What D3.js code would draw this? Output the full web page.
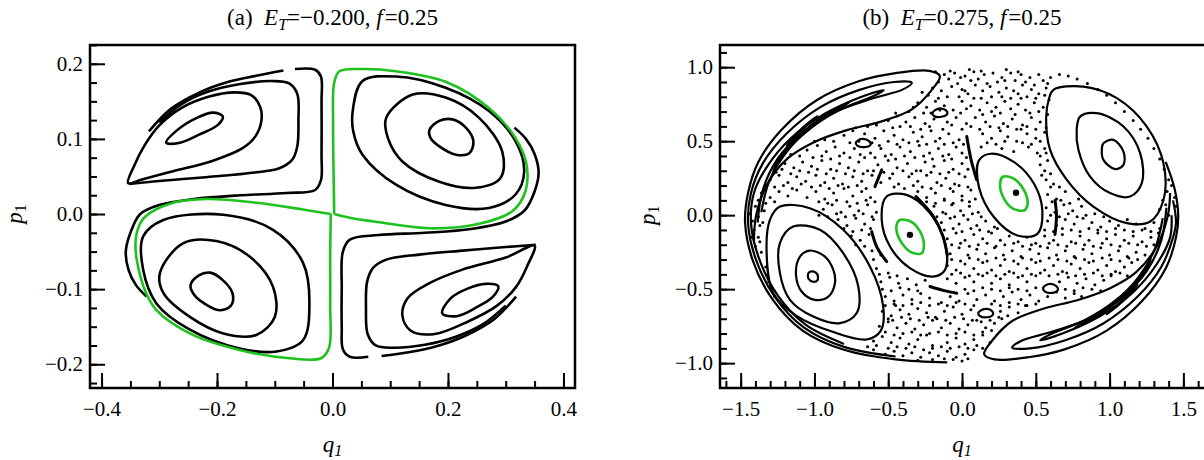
<!DOCTYPE html>
<html lang="en">
<head>
<meta charset="UTF-8">
<title>Poincare sections</title>
<script src="https://d3js.org/d3.v7.min.js"></script>
<style>
  body { margin: 0; background: #fff; }
  svg { display: block; font-family: "Liberation Serif", "Times New Roman", serif; }
  .tick text { font-size: 21px; fill: #000; font-family: "Liberation Serif", serif; }
  .tick line { stroke: #000; stroke-width: 2; }
</style>
</head>
<body>
<svg id="chart" width="1204" height="460"></svg>
<script>
// ---------- panel (a): E_T = -0.200 ----------
const aXTicks = [-0.4, -0.2, 0.0, 0.2, 0.4];
const aYTicks = [-0.2, -0.1, 0.0, 0.1, 0.2];

// upper-left island
const aUL1 = [[-0.288,0.095],[-0.270,0.111],[-0.235,0.128],[-0.207,0.135],[-0.190,0.130],[-0.198,0.119],[-0.230,0.106],[-0.264,0.095]];
const aUL2 = [[-0.354,0.041],[-0.343,0.065],[-0.325,0.092],[-0.300,0.118],[-0.262,0.141],[-0.215,0.156],[-0.170,0.162],[-0.140,0.158],[-0.125,0.142],[-0.123,0.125],[-0.133,0.104],[-0.155,0.088],[-0.207,0.071],[-0.276,0.057],[-0.330,0.046]];
const aUL3 = [[-0.300,0.122],[-0.262,0.146],[-0.215,0.163],[-0.160,0.173],[-0.105,0.177],[-0.075,0.174],[-0.061,0.160],[-0.059,0.125],[-0.061,0.090],[-0.070,0.072],[-0.092,0.061],[-0.150,0.054],[-0.220,0.049],[-0.300,0.044],[-0.352,0.040]];
const aUL4a = [[-0.318,0.110],[-0.280,0.140],[-0.230,0.162],[-0.180,0.176],[-0.132,0.184],[-0.085,0.191]];
const aUL4b = [[-0.065,0.193],[-0.030,0.192],[-0.020,0.183],[-0.019,0.150],[-0.019,0.080],[-0.020,0.045],[-0.030,0.032],[-0.080,0.028],[-0.160,0.025],[-0.240,0.020],[-0.300,0.012],[-0.333,0.000],[-0.350,-0.025],[-0.358,-0.050],[-0.353,-0.075],[-0.340,-0.095],[-0.322,-0.110]];
// upper-right island
const aUR1 = [[0.168,0.112],[0.185,0.124],[0.208,0.126],[0.231,0.115],[0.244,0.097],[0.237,0.081],[0.214,0.079],[0.185,0.090],[0.170,0.101]];
const aUR2 = [[0.093,0.128],[0.139,0.159],[0.196,0.155],[0.254,0.128],[0.294,0.083],[0.291,0.048],[0.248,0.035],[0.185,0.043],[0.121,0.070],[0.096,0.101]];
const aUR3 = [[0.035,0.137],[0.052,0.177],[0.110,0.183],[0.196,0.168],[0.271,0.137],[0.317,0.097],[0.332,0.057],[0.317,0.026],[0.271,0.008],[0.196,0.012],[0.110,0.039],[0.052,0.079],[0.036,0.110]];
// lower-left island
const aLL1 = [[-0.246,-0.095],[-0.232,-0.082],[-0.212,-0.078],[-0.190,-0.088],[-0.173,-0.106],[-0.176,-0.122],[-0.196,-0.128],[-0.222,-0.119],[-0.240,-0.107]];
const aLL2 = [[-0.299,-0.079],[-0.259,-0.039],[-0.201,-0.036],[-0.143,-0.057],[-0.103,-0.097],[-0.100,-0.137],[-0.132,-0.161],[-0.189,-0.159],[-0.247,-0.137],[-0.293,-0.105]];
const aLL3 = [[-0.328,-0.030],[-0.293,-0.008],[-0.189,-0.001],[-0.103,-0.021],[-0.051,-0.065],[-0.040,-0.119],[-0.051,-0.168],[-0.097,-0.183],[-0.161,-0.179],[-0.247,-0.154],[-0.305,-0.119],[-0.328,-0.074]];
// lower-right island
const aLR1 = [[0.190,-0.132],[0.205,-0.112],[0.235,-0.099],[0.265,-0.093],[0.287,-0.096],[0.278,-0.110],[0.250,-0.124],[0.215,-0.136]];
const aLR2 = [[0.350,-0.042],[0.300,-0.058],[0.225,-0.074],[0.168,-0.092],[0.130,-0.112],[0.121,-0.135],[0.135,-0.155],[0.175,-0.160],[0.235,-0.143],[0.285,-0.122],[0.318,-0.097],[0.338,-0.068]];
const aLR3 = [[0.300,-0.122],[0.262,-0.146],[0.215,-0.163],[0.160,-0.174],[0.105,-0.178],[0.075,-0.175],[0.061,-0.160],[0.058,-0.125],[0.060,-0.090],[0.070,-0.072],[0.092,-0.061],[0.150,-0.054],[0.220,-0.049],[0.300,-0.044],[0.352,-0.041]];
const aLR4a = [[0.318,-0.110],[0.280,-0.140],[0.230,-0.162],[0.180,-0.176],[0.132,-0.184],[0.085,-0.189]];
const aLR4b = [[0.062,-0.190],[0.030,-0.190],[0.018,-0.180],[0.016,-0.150],[0.016,-0.100],[0.018,-0.050],[0.030,-0.034],[0.080,-0.028],[0.160,-0.025],[0.240,-0.020],[0.300,-0.010],[0.333,0.005],[0.350,0.030],[0.357,0.055],[0.350,0.080],[0.335,0.100],[0.315,0.115]];
// separatrix (green)
const aGreenR = [[0.003,0.000],[0.002,0.050],[0.001,0.120],[0.003,0.175],[0.012,0.190],[0.050,0.193],[0.110,0.190],[0.196,0.176],[0.271,0.141],[0.317,0.101],[0.336,0.066],[0.334,0.030],[0.312,0.004],[0.254,-0.013],[0.168,-0.019],[0.081,-0.011],[0.030,-0.005],[0.003,0.000]];
const aGreenL = [[-0.003,0.000],[-0.004,-0.050],[-0.004,-0.120],[-0.006,-0.178],[-0.020,-0.192],[-0.074,-0.192],[-0.161,-0.181],[-0.247,-0.159],[-0.310,-0.123],[-0.339,-0.061],[-0.339,-0.025],[-0.325,-0.004],[-0.276,0.015],[-0.218,0.020],[-0.132,0.015],[-0.051,0.006],[-0.003,0.000]];

// ---------- panel (b): E_T = 0.275 ----------
const bXTicks = [-1.5, -1.0, -0.5, 0.0, 0.5, 1.0, 1.5];
const bYTicks = [-1.0, -0.5, 0.0, 0.5, 1.0];

const bLL1 = [[-1.04,-0.39],[-1.01,-0.38],[-0.98,-0.40],[-0.98,-0.44],[-1.01,-0.45],[-1.04,-0.43]];
const bLL2 = [[-1.098,-0.280],[-1.031,-0.239],[-0.929,-0.280],[-0.872,-0.370],[-0.861,-0.459],[-0.906,-0.550],[-0.997,-0.572],[-1.087,-0.516],[-1.125,-0.403]];
const bLL3 = [[-1.144,-0.077],[-0.963,-0.099],[-0.805,-0.257],[-0.703,-0.482],[-0.714,-0.662],[-0.827,-0.730],[-1.008,-0.685],[-1.166,-0.572],[-1.234,-0.392],[-1.234,-0.189]];
const bLL4 = [[-1.234,0.058],[-1.031,0.047],[-0.805,-0.099],[-0.624,-0.347],[-0.534,-0.618],[-0.550,-0.780],[-0.646,-0.840],[-0.872,-0.790],[-1.121,-0.680],[-1.279,-0.527],[-1.324,-0.257],[-1.302,-0.032]];
const bUR1 = [[0.958,0.486],[1.026,0.509],[1.094,0.430],[1.094,0.340],[1.037,0.311],[0.958,0.374],[0.947,0.441]];
const bUR2 = [[0.800,0.666],[0.913,0.689],[1.094,0.599],[1.207,0.419],[1.218,0.216],[1.139,0.126],[1.003,0.149],[0.868,0.261],[0.789,0.441],[0.777,0.576]];
const bUR3 = [[0.619,0.847],[0.822,0.869],[1.049,0.791],[1.252,0.599],[1.365,0.351],[1.365,0.103],[1.275,-0.043],[1.117,-0.054],[0.890,0.058],[0.710,0.239],[0.597,0.441],[0.570,0.660],[0.590,0.790]];
const bCLBlack = [[-0.511,0.126],[-0.375,0.137],[-0.217,0.014],[-0.115,-0.189],[-0.115,-0.370],[-0.195,-0.415],[-0.353,-0.358],[-0.488,-0.212],[-0.544,-0.032]];
const bCRBlack = [[0.511,-0.126],[0.375,-0.137],[0.217,-0.014],[0.115,0.189],[0.115,0.370],[0.195,0.415],[0.353,0.358],[0.488,0.212],[0.544,0.032]];
const bCLGreen = [[-0.420,-0.032],[-0.330,-0.054],[-0.262,-0.167],[-0.273,-0.257],[-0.353,-0.246],[-0.432,-0.145],[-0.443,-0.066]];
const bCRGreen = [[0.420,0.032],[0.330,0.054],[0.262,0.167],[0.273,0.257],[0.353,0.246],[0.432,0.145],[0.443,0.066]];
const bCentres = [[-0.353,-0.133],[0.366,0.151]];
const bSmall1 = [[-0.72,0.49],[-0.68,0.515],[-0.63,0.50],[-0.62,0.475],[-0.66,0.46],[-0.71,0.47]];
const bSmall2 = [[-0.20,0.69],[-0.16,0.72],[-0.11,0.71],[-0.10,0.685],[-0.14,0.665],[-0.19,0.67]];
const bSmall3 = [[0.11,-0.66],[0.15,-0.635],[0.20,-0.645],[0.21,-0.67],[0.17,-0.69],[0.12,-0.68]];
const bSmall4 = [[0.55,-0.49],[0.59,-0.465],[0.64,-0.48],[0.65,-0.505],[0.61,-0.525],[0.56,-0.515]];
const bCres1 = [[-0.612,-0.111],[-0.575,-0.220],[-0.511,-0.313]];
const bCres2 = [[-0.590,0.193],[-0.567,0.250],[-0.544,0.306]];
const bCres3 = [[-0.217,-0.482],[-0.120,-0.510],[-0.036,-0.527]];
const bCres4 = [[-0.312,0.126],[-0.200,0.000],[-0.130,-0.140],[-0.100,-0.268]];
const bCres5 = [[0.032,0.531],[0.060,0.380],[0.099,0.239]];
const bCres6 = [[0.630,0.100],[0.640,0.000],[0.630,-0.130]];
// layered bands, upper-left and lower-right
const bL1 = [[-0.10,-0.995],[-0.45,-0.975],[-0.80,-0.91],[-1.08,-0.78],[-1.29,-0.56],[-1.42,-0.30],[-1.47,-0.05],[-1.45,0.15],[-1.38,0.36],[-1.22,0.58],[-0.98,0.78],[-0.70,0.905],[-0.45,0.96],[-0.22,0.975],[-0.15,0.94],[-0.21,0.84],[-0.34,0.715],[-0.55,0.632],[-0.78,0.575],[-1.00,0.495],[-1.18,0.385],[-1.32,0.21],[-1.395,0.00],[-1.41,-0.18]];
const bL2 = [[-0.45,-0.955],[-0.80,-0.89],[-1.07,-0.76],[-1.27,-0.55],[-1.40,-0.29],[-1.45,-0.05],[-1.43,0.15],[-1.35,0.35],[-1.19,0.55],[-0.96,0.73],[-0.70,0.845],[-0.46,0.90],[-0.34,0.895],[-0.40,0.85],[-0.62,0.785],[-0.88,0.69],[-1.08,0.56],[-1.25,0.38],[-1.35,0.17],[-1.385,-0.05]];
const bL3 = [[-0.80,-0.87],[-1.06,-0.74],[-1.25,-0.54],[-1.38,-0.28],[-1.43,-0.05],[-1.41,0.15],[-1.32,0.33],[-1.16,0.52],[-0.93,0.685],[-0.68,0.80],[-0.53,0.845],[-0.60,0.805],[-0.83,0.71],[-1.03,0.585],[-1.20,0.415],[-1.31,0.22],[-1.36,0.02]];
const bL4 = [[-1.28,0.30],[-1.14,0.49],[-0.95,0.645],[-0.76,0.765],[-0.84,0.725],[-1.02,0.61],[-1.19,0.45]];
const bL5 = [[-1.19,0.47],[-1.08,0.59],[-0.98,0.67],[-1.05,0.61],[-1.15,0.51]];
const bR1 = [[1.38,0.36],[1.44,0.18],[1.465,0.00],[1.45,-0.15],[1.38,-0.36],[1.22,-0.58],[0.98,-0.78],[0.70,-0.905],[0.45,-0.96],[0.22,-0.975],[0.15,-0.94],[0.21,-0.84],[0.34,-0.715],[0.55,-0.632],[0.78,-0.575],[1.00,-0.495],[1.18,-0.385],[1.32,-0.21],[1.395,0.00],[1.41,0.15]];
const bR2 = [[1.43,0.10],[1.45,-0.05],[1.43,-0.15],[1.35,-0.35],[1.19,-0.55],[0.96,-0.73],[0.70,-0.845],[0.46,-0.90],[0.34,-0.895],[0.40,-0.85],[0.62,-0.785],[0.88,-0.69],[1.08,-0.56],[1.25,-0.38],[1.35,-0.17],[1.385,0.05]];
const bR3 = [[1.42,0.00],[1.41,-0.15],[1.32,-0.33],[1.16,-0.52],[0.93,-0.685],[0.68,-0.80],[0.53,-0.845],[0.60,-0.805],[0.83,-0.71],[1.03,-0.585],[1.20,-0.415],[1.31,-0.22],[1.36,-0.02]];
const bR4 = [[1.28,-0.30],[1.14,-0.49],[0.95,-0.645],[0.76,-0.765],[0.84,-0.725],[1.02,-0.61],[1.19,-0.45]];
const bR5 = [[1.19,-0.47],[1.08,-0.59],[0.98,-0.67],[1.05,-0.61],[1.15,-0.51]];
// chaotic sea, points
const bSea = [
[-0.12,0.95],[-0.05,0.96],[0.02,0.94],[0.08,0.97],[0.15,0.95],[0.21,0.96],[0.27,0.93],[0.33,0.96],[0.40,0.95],[0.46,0.93],[0.52,0.95],[-0.09,0.92],[0.11,0.92],[0.36,0.91],[0.24,0.90],[0.55,0.91],[0.60,0.93],[0.05,0.985],[0.30,0.985],[-0.18,0.97],
[-0.20,0.86],[-0.14,0.84],[-0.07,0.87],[0.00,0.85],[0.04,0.82],[0.09,0.88],[0.14,0.84],[0.19,0.87],[0.25,0.83],[0.30,0.86],[0.35,0.84],[0.41,0.88],[0.47,0.85],[0.52,0.82],[0.57,0.86],[-0.10,0.80],[0.20,0.80],[0.44,0.80],
[-0.30,0.76],[-0.24,0.73],[-0.18,0.77],[-0.12,0.74],[-0.06,0.71],[0.00,0.77],[0.06,0.74],[0.12,0.71],[0.17,0.76],[0.23,0.73],[0.29,0.77],[0.33,0.72],[0.38,0.75],[0.43,0.71],[0.49,0.76],[0.55,0.73],[0.59,0.78],[-0.26,0.69],[0.08,0.79],[0.40,0.79],
[-0.50,0.64],[-0.44,0.67],[-0.38,0.63],[-0.32,0.66],[-0.25,0.62],[-0.19,0.65],[-0.10,0.63],[-0.04,0.66],[0.03,0.62],[0.09,0.66],[0.16,0.63],[0.22,0.67],[0.28,0.62],[0.34,0.65],[0.41,0.61],[0.47,0.66],[0.53,0.63],[0.57,0.59],[-0.42,0.60],[-0.28,0.58],
[-0.80,0.54],[-0.74,0.57],[-0.66,0.55],[-0.59,0.52],[-0.53,0.57],[-0.46,0.54],[-0.40,0.51],[-0.33,0.56],[-0.27,0.53],[-0.21,0.57],[-0.15,0.52],[-0.09,0.55],[-0.02,0.51],[0.14,0.55],[0.20,0.52],[0.26,0.57],[0.31,0.53],[0.37,0.50],[0.44,0.55],[0.50,0.52],[0.56,0.56],[-0.70,0.50],[-0.56,0.47],[0.40,0.58],
[-1.05,0.44],[-0.98,0.47],[-0.92,0.43],[-0.86,0.46],[-0.80,0.42],[-0.73,0.45],[-0.62,0.42],[-0.55,0.45],[-0.48,0.41],[-0.42,0.46],[-0.35,0.43],[-0.29,0.47],[-0.22,0.42],[-0.16,0.45],[-0.09,0.41],[-0.04,0.46],[0.00,0.42],[0.13,0.46],[0.27,0.45],[0.35,0.43],[0.45,0.46],[0.51,0.42],[0.56,0.45],[-1.10,0.40],[-0.66,0.39],
[-1.20,0.35],[-1.14,0.32],[-1.08,0.36],[-1.02,0.33],[-0.95,0.37],[-0.89,0.31],[-0.83,0.35],[-0.77,0.32],[-0.70,0.36],[-0.64,0.30],[-0.57,0.34],[-0.50,0.37],[-0.44,0.32],[-0.37,0.35],[-0.31,0.30],[-0.25,0.36],[-0.19,0.33],[-0.12,0.37],[-0.06,0.31],[0.00,0.35],[0.53,0.34],[0.58,0.37],[0.56,0.30],
[-1.30,0.24],[-1.24,0.27],[-1.18,0.22],[-1.12,0.26],[-1.06,0.23],[-0.99,0.27],[-0.93,0.22],[-0.87,0.25],[-0.81,0.21],[-0.74,0.26],[-0.68,0.23],[-0.61,0.27],[-0.55,0.22],[-0.49,0.25],[-0.43,0.21],[-0.36,0.26],[-0.30,0.23],[-0.24,0.27],[-0.17,0.22],[-0.11,0.25],[-0.05,0.21],[0.02,0.26],[0.57,0.24],[0.62,0.21],
[-1.36,0.15],[-1.30,0.12],[-1.24,0.16],[-1.18,0.13],[-1.12,0.17],[-1.05,0.12],[-0.99,0.16],[-0.93,0.11],[-0.87,0.15],[-0.80,0.18],[-0.74,0.13],[-0.68,0.16],[-0.62,0.12],[-0.30,0.16],[-0.24,0.12],[-0.18,0.15],[-0.12,0.11],[-0.06,0.16],[0.00,0.13],[0.06,0.17],[0.58,0.14],[0.64,0.11],[0.70,0.16],[1.39,0.16],[1.36,0.10],
[-1.40,0.06],[-1.34,0.03],[-0.94,0.04],[-0.88,0.07],[-0.82,0.02],[-0.76,0.06],[-0.70,0.03],[-0.64,0.07],[-0.58,0.02],[-0.19,0.06],[-0.13,0.02],[-0.07,0.07],[-0.01,0.03],[0.05,0.06],[0.11,0.02],[0.57,0.05],[0.63,0.02],[0.69,0.07],[0.75,0.03],[0.81,0.06],[1.34,0.04],[1.40,0.00],
[-1.42,-0.04],[-1.37,-0.07],[-0.84,-0.03],[-0.78,-0.07],[-0.72,-0.02],[-0.66,-0.06],[-0.60,-0.03],[-0.14,-0.05],[-0.08,-0.02],[-0.02,-0.06],[0.04,-0.03],[0.10,-0.07],[0.16,-0.04],[0.22,-0.08],[0.58,-0.04],[0.64,-0.07],[0.70,-0.03],[0.76,-0.06],[0.82,-0.02],[0.88,-0.05],[0.94,-0.08],[1.00,-0.04],[1.06,-0.07],[1.12,-0.03],[1.18,-0.06],[1.24,-0.09],[1.30,-0.05],[1.37,-0.08],
[-1.43,-0.15],[-1.37,-0.18],[-0.75,-0.14],[-0.69,-0.17],[-0.63,-0.13],[-0.10,-0.16],[-0.04,-0.12],[0.02,-0.17],[0.08,-0.13],[0.14,-0.16],[0.20,-0.12],[0.26,-0.17],[0.32,-0.14],[0.38,-0.18],[0.44,-0.15],[0.50,-0.19],[0.56,-0.14],[0.62,-0.17],[0.68,-0.13],[0.74,-0.18],[0.80,-0.14],[0.86,-0.17],[0.92,-0.12],[0.98,-0.16],[1.04,-0.13],[1.10,-0.17],[1.16,-0.14],[1.22,-0.18],[1.28,-0.15],[1.33,-0.12],
[-0.61,-0.24],[-0.55,-0.27],[-0.08,-0.26],[-0.02,-0.22],[0.04,-0.27],[0.10,-0.23],[0.16,-0.26],[0.22,-0.22],[0.28,-0.27],[0.34,-0.24],[0.40,-0.28],[0.46,-0.23],[0.52,-0.26],[0.58,-0.22],[0.64,-0.27],[0.70,-0.24],[0.76,-0.28],[0.82,-0.23],[0.88,-0.26],[0.94,-0.22],[1.00,-0.27],[1.06,-0.24],[1.12,-0.28],[1.18,-0.25],[1.24,-0.27],
[-0.58,-0.36],[-0.10,-0.34],[-0.04,-0.37],[0.02,-0.33],[0.08,-0.36],[0.14,-0.32],[0.20,-0.37],[0.26,-0.34],[0.32,-0.38],[0.38,-0.33],[0.44,-0.36],[0.50,-0.32],[0.56,-0.37],[0.62,-0.34],[0.68,-0.38],[0.74,-0.33],[0.80,-0.36],[0.86,-0.32],[0.92,-0.37],[0.98,-0.34],[1.04,-0.38],[1.10,-0.35],[1.15,-0.32],
[-0.55,-0.45],[-0.49,-0.42],[-0.43,-0.46],[-0.37,-0.43],[-0.31,-0.47],[-0.25,-0.44],[-0.10,-0.43],[-0.04,-0.46],[0.02,-0.42],[0.08,-0.45],[0.14,-0.41],[0.20,-0.46],[0.26,-0.43],[0.32,-0.47],[0.38,-0.42],[0.44,-0.45],[0.50,-0.41],[0.66,-0.45],[0.72,-0.42],[0.78,-0.46],[0.84,-0.43],[0.90,-0.47],[0.96,-0.44],[1.01,-0.41],
[-0.52,-0.55],[-0.46,-0.58],[-0.40,-0.54],[-0.34,-0.57],[-0.28,-0.53],[-0.22,-0.56],[-0.14,-0.59],[-0.08,-0.55],[-0.02,-0.58],[0.04,-0.53],[0.10,-0.57],[0.16,-0.54],[0.22,-0.58],[0.28,-0.55],[0.34,-0.52],[0.40,-0.57],[0.46,-0.54],[0.52,-0.58],[0.58,-0.55],[0.64,-0.52],[0.70,-0.56],[0.76,-0.53],[0.81,-0.55],
[-0.54,-0.65],[-0.48,-0.68],[-0.42,-0.64],[-0.36,-0.67],[-0.30,-0.63],[-0.24,-0.66],[-0.18,-0.69],[-0.12,-0.65],[-0.06,-0.62],[0.00,-0.67],[0.06,-0.64],[0.26,-0.65],[0.32,-0.62],[0.38,-0.66],[0.43,-0.61],[-0.45,-0.61],
[-0.56,-0.75],[-0.50,-0.72],[-0.44,-0.76],[-0.38,-0.73],[-0.32,-0.77],[-0.26,-0.74],[-0.20,-0.71],[-0.14,-0.76],[-0.08,-0.73],[-0.02,-0.77],[0.04,-0.74],[0.10,-0.71],[0.16,-0.76],[0.22,-0.73],[0.27,-0.70],
[-0.60,-0.85],[-0.54,-0.82],[-0.48,-0.86],[-0.42,-0.83],[-0.36,-0.87],[-0.30,-0.84],[-0.24,-0.81],[-0.10,-0.86],[-0.04,-0.83],[0.02,-0.87],[0.08,-0.84],[0.14,-0.81],[0.19,-0.86],[-0.20,-0.88],
[-0.52,-0.94],[-0.46,-0.92],[-0.40,-0.95],[-0.34,-0.93],[-0.28,-0.96],[-0.22,-0.93],[-0.16,-0.95],[-0.10,-0.92],[-0.04,-0.96],[0.02,-0.94],[0.08,-0.91],[-0.30,-0.98],[0.00,-0.985],[-0.60,-0.91],
[0.66,0.95],[0.72,0.94],[0.78,0.92],[0.85,0.89],[0.92,0.85],[0.98,0.81],[1.04,0.76],[1.10,0.70],[1.16,0.64],[1.21,0.58],[1.26,0.52],[1.30,0.45],[1.34,0.38],[1.37,0.31],[1.40,0.24],[1.42,0.20],[1.44,0.12],[1.45,0.06],
[-1.36,-0.25],[-1.33,-0.35],[-1.31,-0.45],[-1.27,-0.55],[-1.35,-0.05],[-1.38,-0.15],
[-0.16,0.90],[-0.03,0.89],[0.06,0.91],[0.17,0.89],[0.29,0.91],[0.43,0.90],[0.49,0.88],[0.58,0.89],[-0.01,0.93],[0.38,0.97],[0.13,0.975],[-0.08,0.975],
[-0.23,0.81],[-0.16,0.79],[-0.02,0.80],[0.13,0.79],[0.27,0.80],[0.33,0.79],[0.50,0.79],[0.56,0.81],[-0.27,0.83],[0.02,0.84],[0.38,0.82],
[-0.36,0.70],[-0.21,0.69],[-0.15,0.71],[-0.01,0.69],[0.03,0.72],[0.14,0.68],[0.20,0.70],[0.26,0.69],[0.36,0.68],[0.46,0.69],[0.52,0.70],[0.58,0.68],[-0.33,0.73],[-0.45,0.69],
[-0.64,0.60],[-0.58,0.61],[-0.47,0.59],[-0.35,0.60],[-0.22,0.60],[-0.13,0.58],[-0.07,0.61],[0.00,0.58],[0.06,0.60],[0.12,0.58],[0.19,0.60],[0.25,0.59],[0.31,0.60],[0.37,0.58],[0.44,0.60],[0.50,0.58],[-0.72,0.59],
[-0.93,0.51],[-0.87,0.50],[-0.76,0.49],[-0.61,0.49],[-0.50,0.50],[-0.44,0.48],[-0.36,0.49],[-0.30,0.50],[-0.24,0.48],[-0.18,0.50],[-0.12,0.48],[-0.06,0.49],[0.01,0.48],[0.17,0.49],[0.23,0.48],[0.29,0.50],[0.41,0.49],[0.47,0.48],[0.53,0.50],[-1.00,0.50],
[-1.16,0.41],[-1.01,0.39],[-0.95,0.40],[-0.89,0.38],[-0.83,0.40],[-0.76,0.39],[-0.69,0.41],[-0.59,0.39],[-0.52,0.40],[-0.45,0.38],[-0.39,0.40],[-0.32,0.39],[-0.26,0.40],[-0.20,0.38],[-0.13,0.40],[-0.07,0.38],[0.03,0.39],[0.53,0.40],[0.57,0.42],
[-1.26,0.29],[-1.22,0.31],[-1.16,0.28],[-1.10,0.30],[-1.04,0.29],[-0.98,0.31],[-0.92,0.28],[-0.85,0.30],[-0.79,0.28],[-0.73,0.30],[-0.67,0.28],[-0.60,0.30],[-0.53,0.29],[-0.47,0.28],[-0.40,0.30],[-0.34,0.28],[-0.28,0.30],[-0.21,0.29],[-0.15,0.28],[-0.09,0.29],[-0.02,0.28],[0.04,0.31],[0.60,0.28],[0.54,0.27],
[-1.33,0.20],[-1.27,0.19],[-1.21,0.20],[-1.15,0.18],[-1.09,0.21],[-1.02,0.19],[-0.96,0.20],[-0.90,0.18],[-0.84,0.20],[-0.77,0.19],[-0.71,0.20],[-0.65,0.18],[-0.46,0.19],[-0.39,0.18],[-0.33,0.20],[-0.27,0.19],[-0.21,0.18],[-0.14,0.20],[-0.08,0.18],[-0.02,0.20],[0.04,0.19],[0.60,0.19],[0.66,0.19],
[-1.38,0.10],[-1.33,0.08],[-1.27,0.09],[-0.97,0.09],[-0.91,0.08],[-0.85,0.10],[-0.78,0.09],[-0.71,0.08],[-0.65,0.10],[-0.59,0.09],[-0.24,0.09],[-0.18,0.08],[-0.12,0.10],[-0.06,0.08],[0.00,0.10],[0.05,0.09],[0.09,0.11],[0.61,0.09],[0.67,0.10],[0.73,0.08],[0.79,0.11],[1.38,0.07],
[-1.44,0.01],[-1.38,-0.01],[-0.97,0.00],[-0.91,-0.01],[-0.85,0.01],[-0.79,-0.01],[-0.73,0.00],[-0.67,0.01],[-0.61,-0.01],[-0.17,-0.01],[-0.11,0.01],[-0.05,-0.01],[0.01,0.00],[0.07,0.01],[0.13,-0.01],[0.60,0.00],[0.66,-0.01],[0.72,0.01],[0.78,-0.01],[0.84,0.00],[0.90,0.01],[0.96,-0.01],
[-1.41,-0.10],[-0.80,-0.09],[-0.74,-0.11],[-0.68,-0.10],[-0.62,-0.09],[-0.12,-0.10],[-0.06,-0.09],[0.00,-0.11],[0.06,-0.09],[0.12,-0.10],[0.18,-0.11],[0.24,-0.09],[0.56,-0.10],[0.62,-0.11],[0.68,-0.09],[0.74,-0.10],[0.80,-0.11],[0.86,-0.09],[0.92,-0.10],[0.98,-0.11],[1.04,-0.09],[1.10,-0.10],[1.16,-0.11],[1.22,-0.10],[1.28,-0.11],[1.34,-0.09],
[-1.40,-0.21],[-0.72,-0.20],[-0.66,-0.21],[-0.07,-0.20],[-0.01,-0.19],[0.05,-0.21],[0.11,-0.20],[0.17,-0.19],[0.23,-0.21],[0.29,-0.20],[0.35,-0.19],[0.41,-0.21],[0.47,-0.20],[0.53,-0.21],[0.59,-0.19],[0.65,-0.20],[0.71,-0.21],[0.77,-0.19],[0.83,-0.20],[0.89,-0.21],[0.95,-0.19],[1.01,-0.20],[1.07,-0.21],[1.13,-0.19],[1.19,-0.20],[1.25,-0.21],[1.30,-0.20],
[-0.60,-0.30],[-0.07,-0.30],[-0.01,-0.31],[0.05,-0.29],[0.11,-0.30],[0.17,-0.31],[0.23,-0.29],[0.29,-0.30],[0.35,-0.31],[0.41,-0.29],[0.47,-0.30],[0.53,-0.31],[0.59,-0.29],[0.65,-0.30],[0.71,-0.31],[0.77,-0.29],[0.83,-0.30],[0.89,-0.31],[0.95,-0.29],[1.01,-0.30],[1.07,-0.31],[1.13,-0.29],[1.19,-0.30],
[-0.56,-0.40],[-0.50,-0.39],[-0.44,-0.41],[-0.07,-0.40],[-0.01,-0.39],[0.05,-0.41],[0.11,-0.40],[0.17,-0.39],[0.23,-0.41],[0.29,-0.40],[0.35,-0.39],[0.41,-0.41],[0.47,-0.40],[0.53,-0.39],[0.59,-0.41],[0.65,-0.40],[0.71,-0.39],[0.77,-0.41],[0.83,-0.40],[0.89,-0.39],[0.95,-0.41],[1.01,-0.40],[1.07,-0.39],[1.12,-0.41],
[-0.54,-0.50],[-0.48,-0.51],[-0.42,-0.49],[-0.36,-0.50],[-0.30,-0.51],[0.02,-0.50],[0.08,-0.51],[0.14,-0.49],[0.20,-0.50],[0.26,-0.51],[0.32,-0.49],[0.38,-0.50],[0.44,-0.51],[0.50,-0.49],[0.70,-0.50],[0.76,-0.51],[0.82,-0.49],[0.88,-0.50],[0.94,-0.51],
[-0.52,-0.61],[-0.46,-0.60],[-0.40,-0.61],[-0.34,-0.60],[-0.28,-0.59],[-0.22,-0.61],[-0.16,-0.60],[-0.10,-0.61],[-0.04,-0.59],[0.02,-0.60],[0.08,-0.61],[0.20,-0.60],[0.26,-0.61],[0.32,-0.59],[0.38,-0.60],[0.44,-0.61],[0.50,-0.60],
[-0.50,-0.70],[-0.47,-0.71],[-0.41,-0.69],[-0.35,-0.70],[-0.29,-0.71],[-0.23,-0.69],[-0.17,-0.70],[-0.11,-0.71],[-0.05,-0.69],[0.01,-0.70],[0.07,-0.71],[0.13,-0.72],[0.19,-0.71],[0.25,-0.69],[0.31,-0.68],
[-0.52,-0.79],[-0.46,-0.81],[-0.40,-0.80],[-0.34,-0.79],[-0.28,-0.81],[-0.22,-0.80],[-0.16,-0.79],[-0.10,-0.81],[-0.04,-0.80],[0.02,-0.79],[0.08,-0.81],[0.14,-0.79],[0.20,-0.78],
[-0.64,-0.89],[-0.58,-0.88],[-0.50,-0.90],[-0.44,-0.89],[-0.38,-0.90],[-0.32,-0.89],[-0.26,-0.91],[-0.20,-0.90],[-0.14,-0.89],[-0.08,-0.90],[-0.02,-0.89],[0.04,-0.90],[0.10,-0.88],[0.14,-0.90],
[-0.20,-0.975],[-0.12,-0.97],[-0.06,-0.975],[0.04,-0.97]
];

const green = "#1ec21e";
const svg = d3.select("#chart");

const panels = [
  { id: "a", left: 90, right: 575, top: 45, bottom: 388,
    xDom: [-0.42, 0.42], yDom: [-0.2316, 0.225],
    xTicks: aXTicks, yTicks: aYTicks,
    xMinor: d3.range(-0.4, 0.401, 0.05), yMinor: d3.range(-0.225, 0.226, 0.025),
    label: "(a)", energy: "=\u22120.200, ", ylabX: 22,
    closed: [aUL1, aUL2, aUR1, aUR2, aUR3, aLL1, aLL2, aLL3, aLR1, aLR2],
    open: [aUL3, aUL4a, aUL4b, aLR3, aLR4a, aLR4b],
    greenOpen: [aGreenR, aGreenL], greenClosed: [], width: 2.6 },
  { id: "b", left: 720, right: 1207, top: 45, bottom: 388,
    xDom: [-1.64, 1.66], yDom: [-1.168, 1.15],
    xTicks: bXTicks, yTicks: bYTicks,
    xMinor: d3.range(-1.6, 1.61, 0.1), yMinor: d3.range(-1.1, 1.11, 0.1),
    label: "(b)", energy: "=0.275, ", ylabX: 655,
    closed: [bLL1, bLL2, bLL3, bLL4, bUR1, bUR2, bUR3, bCLBlack, bCRBlack, bSmall1, bSmall2, bSmall3, bSmall4, bL4, bL5, bR4, bR5],
    open: [bL1, bL2, bL3, bR1, bR2, bR3],
    crescents: [bCres1, bCres2, bCres3, bCres4, bCres5, bCres6],
    greenOpen: [], greenClosed: [bCLGreen, bCRGreen],
    dots: bSea, centres: bCentres, width: 2.2 }
];

panels.forEach(p => {
  const x = d3.scaleLinear().domain(p.xDom).range([p.left, p.right]);
  const y = d3.scaleLinear().domain(p.yDom).range([p.bottom, p.top]);
  const g = svg.append("g");

  svg.append("clipPath").attr("id", "clip" + p.id)
    .append("rect").attr("x", p.left).attr("y", p.top)
    .attr("width", p.right - p.left).attr("height", p.bottom - p.top);
  const plot = g.append("g").attr("clip-path", `url(#clip${p.id})`);

  const closedLine = d3.line().x(d => x(d[0])).y(d => y(d[1])).curve(d3.curveCatmullRomClosed);
  const openLine = d3.line().x(d => x(d[0])).y(d => y(d[1])).curve(d3.curveCatmullRom);

  if (p.dots) {
    plot.selectAll("circle.sea").data(p.dots).join("circle")
      .attr("class", "sea")
      .attr("cx", d => x(d[0])).attr("cy", d => y(d[1]))
      .attr("r", 1.5).attr("fill", "#000");
  }

  plot.selectAll("path.closed").data(p.closed).join("path")
    .attr("class", "closed").attr("d", closedLine)
    .attr("fill", "none").attr("stroke", "#000").attr("stroke-width", p.width);

  plot.selectAll("path.open").data(p.open).join("path")
    .attr("class", "open").attr("d", openLine)
    .attr("fill", "none").attr("stroke", "#000").attr("stroke-width", p.width);

  if (p.crescents) {
    plot.selectAll("path.cres").data(p.crescents).join("path")
      .attr("class", "cres").attr("d", openLine)
      .attr("fill", "none").attr("stroke", "#000").attr("stroke-width", 3)
      .attr("stroke-linecap", "round");
  }

  plot.selectAll("path.gopen").data(p.greenOpen).join("path")
    .attr("class", "gopen").attr("d", openLine)
    .attr("fill", "none").attr("stroke", green).attr("stroke-width", 2.6);

  plot.selectAll("path.gclosed").data(p.greenClosed).join("path")
    .attr("class", "gclosed").attr("d", closedLine)
    .attr("fill", "none").attr("stroke", green).attr("stroke-width", 2.6);

  if (p.centres) {
    plot.selectAll("circle.ctr").data(p.centres).join("circle")
      .attr("class", "ctr")
      .attr("cx", d => x(d[0])).attr("cy", d => y(d[1]))
      .attr("r", 3.2).attr("fill", "#000");
  }

  // axes, ticks pointing inward
  const fmt = d3.format(".1f");
  g.append("g").attr("transform", `translate(0,${p.bottom})`)
    .call(d3.axisBottom(x).tickValues(p.xMinor).tickSize(-7).tickFormat(""));
  g.append("g").attr("transform", `translate(0,${p.bottom})`)
    .call(d3.axisBottom(x).tickValues(p.xTicks).tickSize(-15).tickPadding(13).tickFormat(fmt));
  g.append("g").attr("transform", `translate(${p.left},0)`)
    .call(d3.axisLeft(y).tickValues(p.yMinor).tickSize(-7).tickFormat(""));
  g.append("g").attr("transform", `translate(${p.left},0)`)
    .call(d3.axisLeft(y).tickValues(p.yTicks).tickSize(-15).tickPadding(7).tickFormat(fmt));
  g.selectAll(".domain").remove();

  g.append("rect")
    .attr("x", p.left).attr("y", p.top)
    .attr("width", p.right - p.left).attr("height", p.bottom - p.top)
    .attr("fill", "none").attr("stroke", "#000").attr("stroke-width", 2.5);

  // title
  const title = g.append("text").attr("x", x(0)).attr("y", 25)
    .attr("text-anchor", "middle").attr("font-size", 23)
    .attr("xml:space", "preserve");
  title.append("tspan").text(p.label + "  ");
  title.append("tspan").attr("font-style", "italic").text("E");
  title.append("tspan").attr("font-style", "italic").attr("font-size", 16).attr("dy", 5).text("T");
  title.append("tspan").attr("dy", -5).text(p.energy);
  title.append("tspan").attr("font-style", "italic").text("f");
  title.append("tspan").attr("dx", 2).text("=0.25");

  // axis labels
  const xl = g.append("text").attr("x", x(0)).attr("y", 452)
    .attr("text-anchor", "middle").attr("font-size", 23);
  xl.append("tspan").attr("font-style", "italic").text("q");
  xl.append("tspan").attr("font-style", "italic").attr("font-size", 16).attr("dy", 4).text("1");

  const yl = g.append("text")
    .attr("transform", `translate(${p.ylabX},${y(0)}) rotate(-90)`)
    .attr("text-anchor", "middle").attr("font-size", 23);
  yl.append("tspan").attr("font-style", "italic").text("p");
  yl.append("tspan").attr("font-size", 16).attr("dy", 4).text("1");
});
</script>
</body>
</html>
